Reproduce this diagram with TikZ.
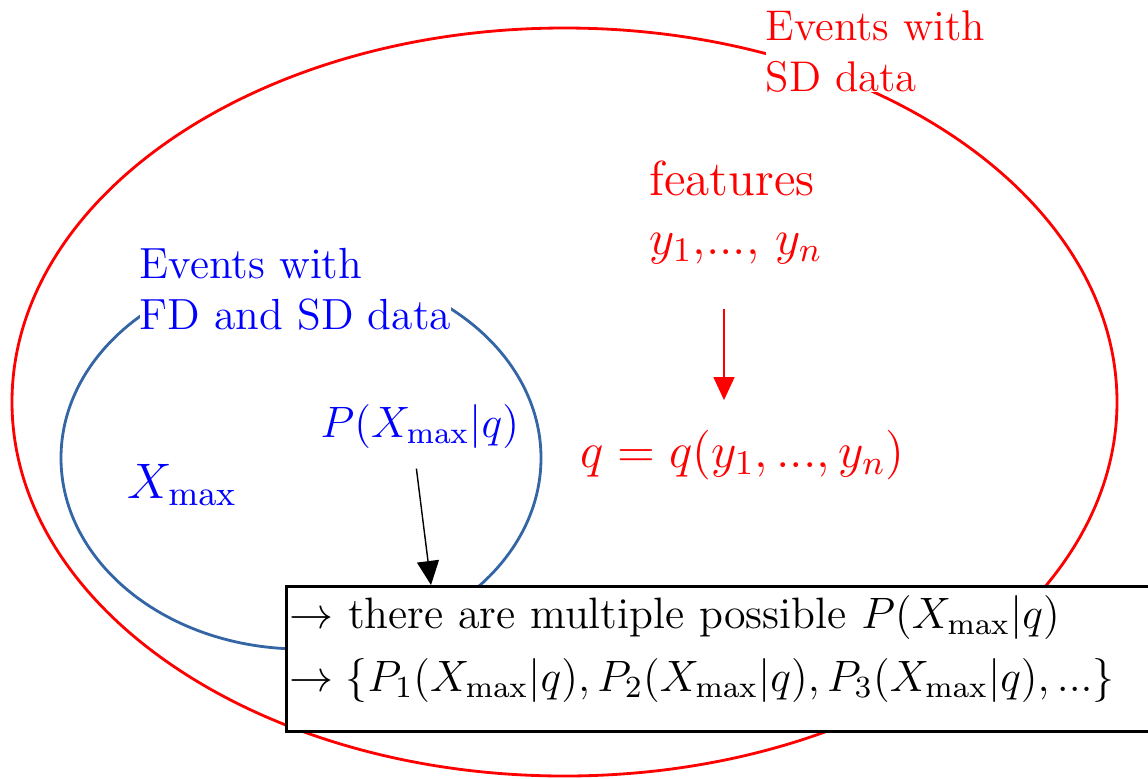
\RequirePackage{fix-cm}
\documentclass[tikz,border=0pt]{standalone}
\usepackage{tikz}
\usetikzlibrary{arrows.meta,positioning}
\definecolor{steel}{RGB}{52,101,164}
\tikzstyle{lbl}=[inner sep=0pt,align=left,fill=white]
\tikzstyle{sdlbl}=[lbl,text=red,font=\fontsize{12.2}{14.5}\selectfont]
\tikzstyle{fdlbl}=[lbl,text=blue,font=\fontsize{12.4}{14.5}\selectfont]
\tikzstyle{feat}=[inner sep=0pt,align=left,text=red,font=\fontsize{14}{16.8}\selectfont]
\tikzstyle{res}=[rectangle,draw,line width=0.8pt,fill=white,align=left,inner xsep=0.03cm,inner ysep=0.09cm,text width=8.56cm,font=\fontsize{12.5}{17.9}\selectfont]
\tikzstyle{redarr}=[-{Triangle[length=0.23cm,width=0.21cm]},red]
\tikzstyle{blkarr}=[-{Triangle[length=0.24cm,width=0.22cm]},black]

\begin{document}
\begin{tikzpicture}[x=0.01cm,y=-0.01cm]
\useasboundingbox (0,0) rectangle (1148,778);
% the two sets of events
\draw[red,line width=0.8pt] (564.5,402) ellipse [x radius=552.5,y radius=374];
\draw[steel,line width=0.8pt] (301,458) ellipse [x radius=240,y radius=191];
\node[sdlbl,anchor=north west] (SD) at (765,10) {Events with\\SD data};
\node[fdlbl,anchor=north west] (FD) at (139,248) {Events with\\FD and SD data};
\node[feat,anchor=north west] (F) at (649,160) {features\\$y_1$,..., $y_n$};
\node[inner sep=0pt,text=red,font=\fontsize{14.1}{16}\selectfont,anchor=base west] (Q) at (580,467) {$q=q(y_1,...,y_n)$};
\node[inner sep=0pt,text=blue,font=\fontsize{12.5}{14}\selectfont,anchor=base west] (P) at (320,437) {$P(X_{\max}|q)$};
\node[inner sep=0pt,text=blue,font=\fontsize{14.2}{15}\selectfont,anchor=base west] (X) at (127,498) {$X_{\max}$};
\node[res,anchor=north west] (B) at (285,585) {$\rightarrow$ there are multiple possible $P(X_{\max}|q)$\\$\rightarrow\{P_1(X_{\max}|q),P_2(X_{\max}|q),P_3(X_{\max}|q),...\}$\rule[-0.31cm]{0pt}{0.31cm}};
\draw[redarr,shorten <=0.44cm,shorten >=0.29cm] (F.south -| 724,0) -- (Q.north -| 724,0);
\draw[blkarr,shorten <=0.2cm] ([xshift=-0.06cm]P.south) -- (B.north west -| 431,0);
\end{tikzpicture}
\end{document}
